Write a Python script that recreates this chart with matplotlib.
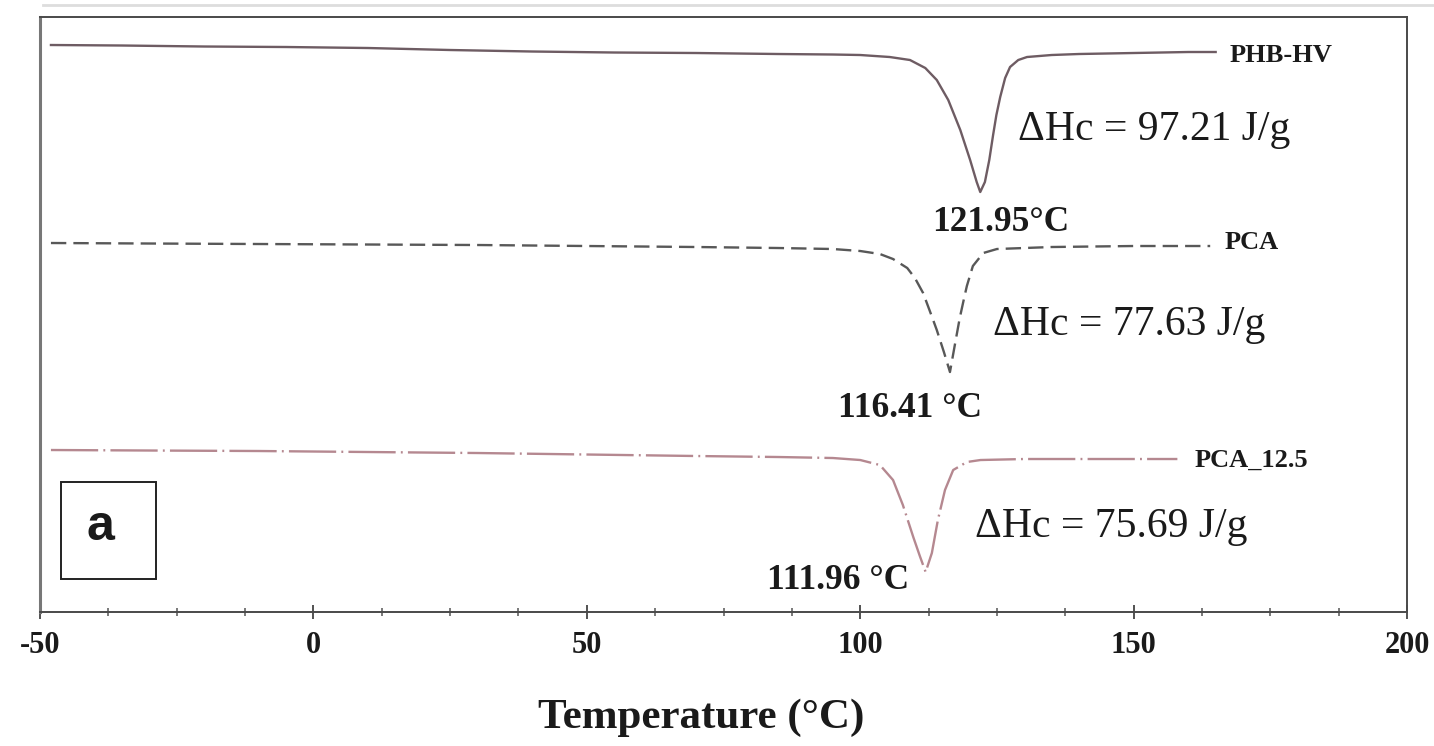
import matplotlib
matplotlib.use("Agg")
import matplotlib.pyplot as plt
from matplotlib.patches import Rectangle
from matplotlib.lines import Line2D
from matplotlib.ticker import MultipleLocator

# DSC cooling curves (heat flow, arbitrary units, curves offset vertically)
phb_T = [-48, -35, -20, -5, 10, 25, 40, 55, 70, 85, 95, 100, 105.4, 109.1, 111.9,
         114, 116.1, 118.3, 120.1, 121.3, 121.95, 122.8, 123.6, 124.3, 124.9,
         125.6, 126.5, 127.4, 128.9, 130.5, 135, 140, 150, 160, 165]
phb_hf = [5.67, 5.665, 5.655, 5.65, 5.64, 5.62, 5.605, 5.595, 5.59, 5.58, 5.575,
          5.57, 5.55, 5.52, 5.44, 5.32, 5.12, 4.82, 4.52, 4.30, 4.20, 4.30, 4.52,
          4.77, 4.97, 5.15, 5.34, 5.45, 5.52, 5.55, 5.57, 5.58, 5.59, 5.60, 5.60]

pca_T = [-48, -30, -10, 10, 30, 50, 70, 85, 95, 100, 103.6, 106, 108.6, 110,
         111.5, 113, 114, 115.3, 116.41, 117.3, 118.2, 119, 119.5, 120.6, 122.5,
         125, 135, 150, 164]
pca_hf = [3.69, 3.685, 3.68, 3.675, 3.67, 3.66, 3.65, 3.64, 3.63, 3.61, 3.58,
          3.53, 3.44, 3.34, 3.19, 2.97, 2.82, 2.60, 2.40, 2.67, 2.94, 3.14, 3.26,
          3.46, 3.59, 3.63, 3.65, 3.66, 3.66]

pca125_T = [-48, -30, -10, 10, 30, 50, 70, 85, 95, 100, 103.6, 106, 107.8, 109.7,
            110.9, 111.96, 113.1, 114.2, 115.5, 117, 119.5, 122, 130, 145, 158]
pca125_hf = [1.62, 1.615, 1.61, 1.60, 1.59, 1.575, 1.56, 1.55, 1.54, 1.52, 1.47,
             1.32, 1.07, 0.75, 0.56, 0.40, 0.59, 0.92, 1.22, 1.42, 1.50, 1.52,
             1.53, 1.53, 1.53]

sample_names = ["PHB-HV", "PCA", "PCA_12.5"]
enthalpy_labels = ["\u0394Hc = 97.21 J/g", "\u0394Hc = 77.63 J/g", "\u0394Hc = 75.69 J/g"]
peak_labels = ["121.95\u00b0C", "116.41 \u00b0C", "111.96 \u00b0C"]
x_ticks = [-50, 0, 50, 100, 150, 200]

serif = ["Liberation Serif", "DejaVu Serif"]

fig = plt.figure(figsize=(14.34, 7.46), dpi=100)
ax = fig.add_axes([0.0279, 0.1796, 0.9533, 0.7976])

ax.plot(phb_T, phb_hf, color="#6e5c63", lw=1.7, solid_joinstyle="round")
l2, = ax.plot(pca_T, pca_hf, color="#585858", lw=1.7)
l2.set_dashes([6.5, 3.0])
l3, = ax.plot(pca125_T, pca125_hf, color="#b58890", lw=1.7)
l3.set_dashes([20, 2.2, 0.8, 2.2])

ax.set_xlim(-50, 200)
ax.set_ylim(0, 5.95)
ax.set_yticks([])
ax.set_xticks(x_ticks)
ax.set_xticklabels([str(t) for t in x_ticks])
ax.xaxis.set_minor_locator(MultipleLocator(12.5))
ax.tick_params(axis="x", which="major", direction="inout", length=10, width=1.3,
               color="#444444", pad=9)
ax.tick_params(axis="x", which="minor", direction="inout", length=6, width=1.1,
               color="#555555")
for lbl in ax.get_xticklabels():
    lbl.set_fontfamily(serif)
    lbl.set_fontweight("bold")
    lbl.set_fontsize(22)
    lbl.set_color("#1a1a1a")

for side in ["left", "right", "top", "bottom"]:
    ax.spines[side].set_color("#4a4a4a")
    ax.spines[side].set_linewidth(1.4)
ax.spines["left"].set_linewidth(2.2)
ax.spines["left"].set_color("#777777")

ax.set_xlabel("Temperature (\u00b0C)", fontsize=31, fontweight="bold",
              family=serif, color="#1a1a1a")
ax.xaxis.set_label_coords(0.484, -0.146)

# sample names at the right end of each curve
name_pos = [(167.6, 5.57), (166.7, 3.70), (161.2, 1.52)]
for (x, y), s in zip(name_pos, sample_names):
    ax.text(x, y, s, fontsize=19, fontweight="bold", family=serif,
            ha="left", va="center", color="#1a1a1a")

# crystallization enthalpies
dh_pos = [(128.9, 4.82), (124.3, 2.87), (121.0, 0.85)]
for (x, y), s in zip(dh_pos, enthalpy_labels):
    ax.text(x, y, s, fontsize=30, family=serif, ha="left", va="center",
            color="#1a1a1a")

# peak temperatures
pk_pos = [(125.6, 3.90), (109.1, 2.04), (95.9, 0.32)]
for (x, y), s in zip(pk_pos, peak_labels):
    ax.text(x, y, s, fontsize=25.5, fontweight="bold", family=serif,
            ha="center", va="center", color="#1a1a1a")

# panel tag
ax.add_patch(Rectangle((0.0154, 0.0555), 0.0695, 0.163, transform=ax.transAxes,
                       fill=False, edgecolor="#222222", lw=1.4))
ax.text(0.0439, 0.143, "a", transform=ax.transAxes, fontsize=36, fontweight="bold",
        family=["Liberation Sans", "DejaVu Sans"], ha="center", va="center",
        color="#1a1a1a")

# faint rule along the top edge
fig.add_artist(Line2D([0.03, 1.0], [0.993, 0.993], transform=fig.transFigure,
                      color="#dddddd", lw=2))

fig.savefig("out.png", dpi=100, facecolor="white")
